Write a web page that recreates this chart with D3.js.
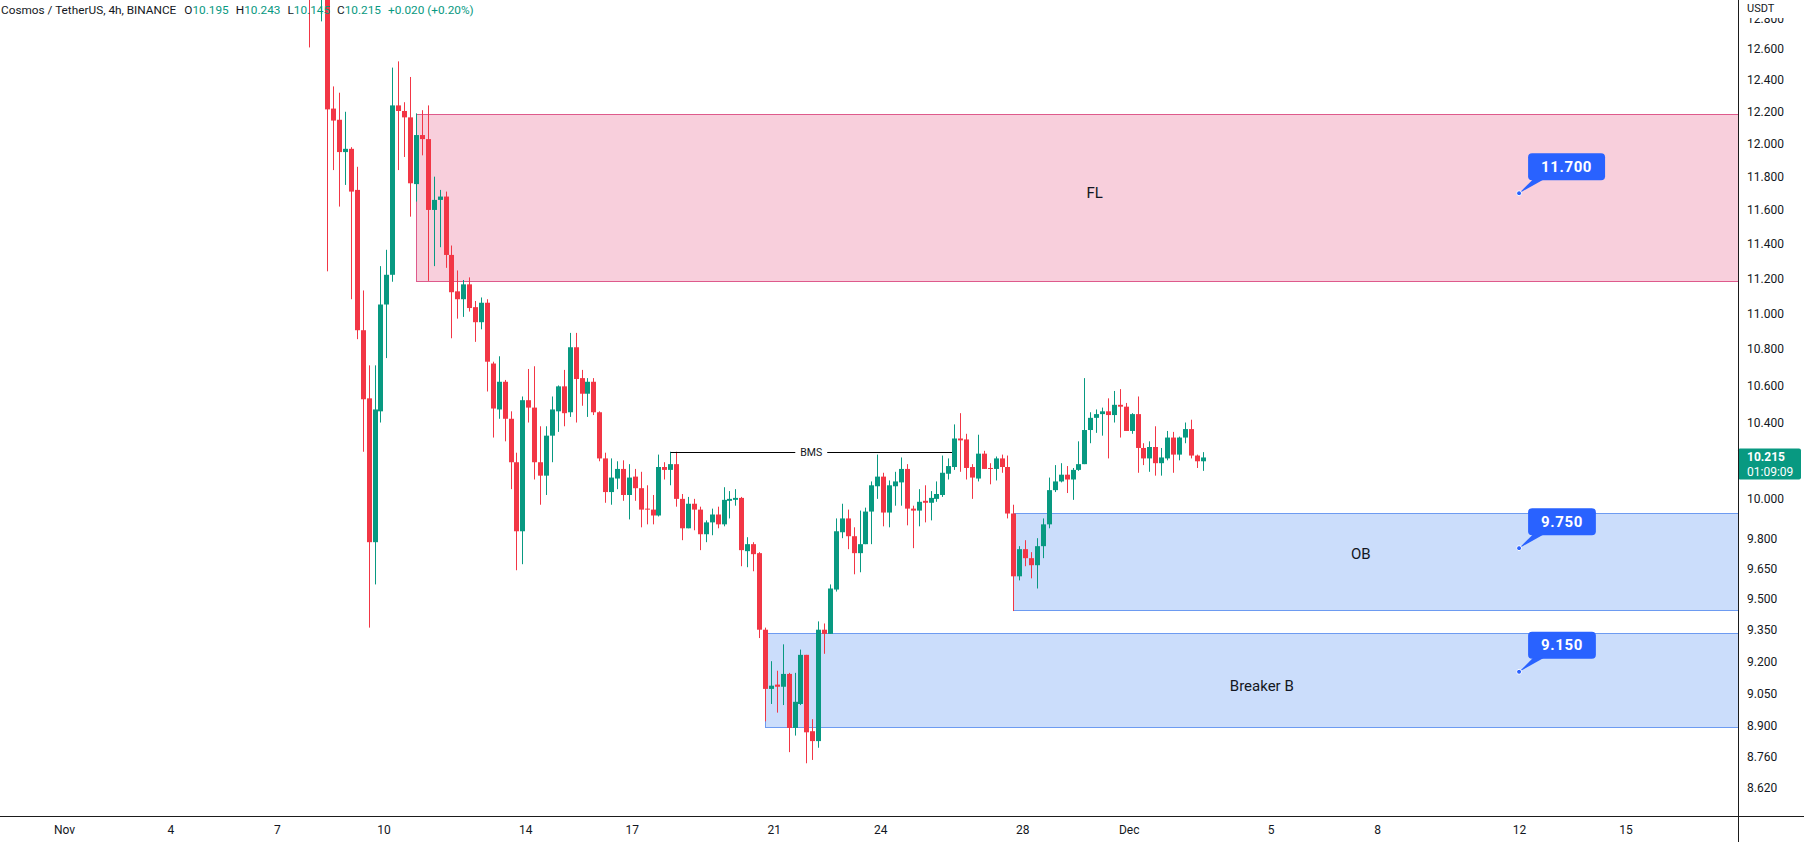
<!DOCTYPE html>
<html><head><meta charset="utf-8">
<script src="https://cdn.jsdelivr.net/npm/d3@7"></script>
<style>
html,body{margin:0;padding:0;background:#fff;overflow:hidden}
svg{display:block}
text{font-family:Roboto,"Noto Sans",sans-serif}
</style></head><body>
<svg id="chart" width="1804" height="842"></svg>
<script>
// ---------------- DATA ----------------
const SYMBOL = "Cosmos / TetherUS, 4h, BINANCE";
const FIRST_BAR = "2022-11-07T22:00:00Z";   // chart-local time of first bar
const BAR_HOURS = 4;
const COUNTDOWN = "01:09:09";
const PRICE_UNIT = "USDT";

const OPEN = [
  13.60, 13.20, 13.10,
  13.40, 12.22, 12.15, 11.95, 11.97, 11.72, 10.905, 10.53, 9.78, 10.46,
  11.05, 11.22, 12.24, 12.205, 12.165, 11.755, 12.055, 12.03, 11.60, 11.66,
  11.68, 11.335, 11.125, 11.08, 11.165, 11.035, 10.95, 11.06, 10.72, 10.47,
  10.62, 10.42, 10.19, 9.835, 10.52, 10.48, 10.19, 10.12, 10.33, 10.46,
  10.595, 10.455, 10.81, 10.64, 10.555, 10.62, 10.455, 10.21, 10.035, 10.105,
  10.155, 10.02, 10.115, 10.055, 9.95, 9.945, 9.915, 10.165, 10.15, 10.18,
  10.0, 9.85, 9.975, 9.945, 9.82, 9.88, 9.92, 9.87, 9.99, 9.995,
  10.005, 9.735, 9.77, 9.725, 9.35, 9.07, 9.09, 9.08, 9.14, 8.89,
  9.00, 9.23, 8.875, 8.83, 9.35, 9.33, 9.545, 9.83, 9.90, 9.81,
  9.725, 9.77, 9.935, 10.065, 10.115, 9.93, 10.065, 10.085, 10.155, 9.95,
  9.94, 9.99, 9.98, 10.0, 10.02, 10.13, 10.165, 10.315, 10.31, 10.165,
  10.105, 10.235, 10.16, 10.155, 10.21, 10.165, 9.925, 9.61, 9.745, 9.70,
  9.665, 9.76, 9.87, 10.045, 10.09, 10.125, 10.10, 10.15, 10.18, 10.36,
  10.425, 10.445, 10.46, 10.44, 10.495, 10.485, 10.355, 10.445, 10.265, 10.21,
  10.27, 10.185, 10.21, 10.32, 10.23, 10.32, 10.365, 10.225, 10.195
];
const HIGH = [
  13.70, 13.45, 13.55,
  13.48, 12.36, 12.32, 12.20, 11.98, 11.86, 11.13, 10.71, 10.71, 11.27,
  11.365, 12.48, 12.52, 12.26, 12.42, 12.19, 12.21, 12.24, 11.80, 11.72,
  11.71, 11.39, 11.245, 11.19, 11.205, 11.07, 11.09, 11.08, 10.73, 10.76,
  10.63, 10.46, 10.24, 10.54, 10.69, 10.705, 10.38, 10.38, 10.54, 10.60,
  10.685, 10.89, 10.89, 10.685, 10.64, 10.64, 10.46, 10.24, 10.21, 10.195,
  10.20, 10.18, 10.155, 10.14, 10.07, 10.02, 10.23, 10.19, 10.245, 10.245,
  10.025, 10.01, 10.0, 9.96, 9.89, 9.95, 9.96, 10.06, 10.04, 10.05,
  10.01, 9.805, 9.78, 9.73, 9.36, 9.20, 9.155, 9.28, 9.145, 9.145,
  9.255, 9.23, 8.93, 9.39, 9.38, 9.57, 9.90, 9.975, 9.945, 9.855,
  9.94, 9.955, 10.09, 10.23, 10.135, 10.095, 10.14, 10.215, 10.18, 9.965,
  10.05, 10.07, 10.04, 10.09, 10.225, 10.21, 10.39, 10.45, 10.34, 10.18,
  10.335, 10.25, 10.185, 10.22, 10.23, 10.225, 9.97, 9.76, 9.79, 9.73,
  9.80, 9.90, 10.11, 10.175, 10.185, 10.17, 10.16, 10.30, 10.64, 10.455,
  10.47, 10.48, 10.53, 10.57, 10.58, 10.505, 10.45, 10.54, 10.29, 10.30,
  10.38, 10.265, 10.355, 10.35, 10.325, 10.40, 10.415, 10.23, 10.243
];
const LOW = [
  12.61, 12.95, 12.78,
  11.24, 11.84, 11.62, 11.75, 11.08, 10.855, 10.245, 9.36, 9.57, 10.40,
  10.75, 11.18, 11.84, 11.92, 11.56, 11.65, 11.93, 11.185, 11.27, 11.38,
  11.26, 10.86, 10.97, 10.98, 11.01, 10.84, 10.91, 10.567, 10.32, 10.42,
  10.30, 10.05, 9.64, 9.67, 10.40, 10.10, 9.97, 10.02, 10.19, 10.35,
  10.38, 10.43, 10.40, 10.49, 10.43, 10.44, 10.195, 9.98, 9.97, 10.05,
  9.99, 9.895, 9.99, 9.855, 9.87, 9.87, 9.91, 10.10, 10.07, 9.96,
  9.79, 9.85, 9.84, 9.74, 9.78, 9.815, 9.85, 9.86, 9.90, 9.965,
  9.66, 9.655, 9.635, 9.31, 8.92, 9.00, 8.96, 8.995, 8.78, 8.855,
  8.995, 8.73, 8.745, 8.80, 9.235, 9.33, 9.535, 9.80, 9.745, 9.62,
  9.63, 9.77, 9.77, 10.0, 9.86, 9.855, 9.965, 9.965, 9.865, 9.75,
  9.86, 9.88, 9.89, 9.985, 10.01, 10.10, 10.15, 10.14, 10.10, 10.0,
  10.09, 10.155, 10.075, 10.095, 10.135, 9.90, 9.44, 9.59, 9.66, 9.60,
  9.55, 9.70, 9.85, 10.035, 10.085, 10.03, 9.995, 10.145, 10.18, 10.29,
  10.345, 10.33, 10.21, 10.40, 10.32, 10.355, 10.34, 10.135, 10.175, 10.14,
  10.12, 10.12, 10.20, 10.135, 10.20, 10.29, 10.21, 10.16, 10.145
];
const CLOSE = [
  13.20, 13.10, 13.40,
  12.215, 12.145, 11.95, 11.97, 11.71, 10.905, 10.525, 9.78, 10.47, 11.05,
  11.22, 12.24, 12.205, 12.165, 11.76, 12.055, 12.03, 11.60, 11.66, 11.68,
  11.335, 11.12, 11.08, 11.165, 11.03, 10.95, 11.06, 10.73, 10.475, 10.62,
  10.42, 10.19, 9.835, 10.52, 10.48, 10.19, 10.12, 10.33, 10.47, 10.595,
  10.45, 10.81, 10.635, 10.555, 10.62, 10.455, 10.21, 10.035, 10.11, 10.155,
  10.02, 10.11, 10.055, 9.945, 9.945, 9.915, 10.165, 10.15, 10.18, 10.0,
  9.85, 9.975, 9.945, 9.82, 9.88, 9.92, 9.87, 9.995, 10.0, 10.005,
  9.74, 9.77, 9.72, 9.35, 9.07, 9.085, 9.08, 9.14, 8.89, 9.01,
  9.23, 8.87, 8.83, 9.35, 9.33, 9.55, 9.835, 9.90, 9.81, 9.725,
  9.77, 9.935, 10.07, 10.115, 9.93, 10.07, 10.09, 10.155, 9.95, 9.94,
  9.985, 9.98, 10.005, 10.025, 10.135, 10.17, 10.315, 10.305, 10.16, 10.11,
  10.235, 10.155, 10.155, 10.21, 10.165, 9.925, 9.61, 9.745, 9.70, 9.665,
  9.76, 9.87, 10.045, 10.09, 10.125, 10.10, 10.15, 10.18, 10.36, 10.425,
  10.445, 10.46, 10.44, 10.495, 10.485, 10.355, 10.445, 10.265, 10.21, 10.27,
  10.185, 10.215, 10.32, 10.23, 10.32, 10.365, 10.225, 10.195, 10.215
];

const Y_TICKS = [12.8, 12.6, 12.4, 12.2, 12.0, 11.8, 11.6, 11.4, 11.2, 11.0, 10.8, 10.6, 10.4,
                 10.0, 9.8, 9.65, 9.5, 9.35, 9.2, 9.05, 8.9, 8.76, 8.62];
const X_TICK_DATES = ["2022-11-01", "2022-11-04", "2022-11-07", "2022-11-10", "2022-11-14", "2022-11-17",
                      "2022-11-21", "2022-11-24", "2022-11-28", "2022-12-01", "2022-12-05", "2022-12-08",
                      "2022-12-12", "2022-12-15"];
const X_TICK_LABELS = ["Nov", "4", "7", "10", "14", "17", "21", "24", "28", "Dec", "5", "8", "12", "15"];

// zones (rectangles drawn on the chart)
const ZONE_NAMES  = ["FL", "OB", "Breaker B"];
const ZONE_START  = ["2022-11-10T22:00:00Z", "2022-11-27T18:00:00Z", "2022-11-20T18:00:00Z"];
const ZONE_TOP    = [12.186, 9.928, 9.335];
const ZONE_BOTTOM = [11.185, 9.446, 8.894];
const ZONE_LABEL_TIME  = ["2022-11-30T01:00:00Z", "2022-12-07T13:00:00Z", "2022-12-04T18:00:00Z"];
const ZONE_LABEL_PRICE = [11.70, 9.72, 9.085];

// price callouts
const CALLOUT_VALUES = [11.7, 9.75, 9.15];
const CALLOUT_TIME = "2022-12-12T00:00:00Z";

// BMS line
const BMS_LABEL = "BMS";
const BMS_FROM_BAR = 61;   // index in arrays (bar k=58)
const BMS_TO_BAR = 109;    // index in arrays (bar k=106)
const BMS_PRICE = 10.245;

// ---------------- CHART ----------------
const W = 1804, H = 842, PLOT_R = 1738, PLOT_B = 816;
const UP = "#089981", DOWN = "#F23645", INK = "#131722";
const svg = d3.select("#chart");

const x = d3.scaleUtc()
  .domain([new Date("2022-11-01T00:00:00Z"), new Date("2022-12-15T00:00:00Z")])
  .range([64, 64 + 44 * 35.49]);
const y = d3.scaleLog().domain([8.4967, 12.921]).range([PLOT_B, 0]);

const t0 = new Date(FIRST_BAR);
const bars = OPEN.map((o, i) => ({
  t: d3.utcHour.offset(t0, i * BAR_HOURS), o, h: HIGH[i], l: LOW[i], c: CLOSE[i]
}));

svg.append("rect").attr("width", W).attr("height", H).attr("fill", "#fff");
svg.append("defs").append("clipPath").attr("id", "plot")
  .append("rect").attr("x", 0).attr("y", 0).attr("width", PLOT_R).attr("height", PLOT_B);

const plot = svg.append("g").attr("clip-path", "url(#plot)");

// zones
const zoneStyle = [
  {fill: "#F8CFDC", stroke: "#DE5A8C"},
  {fill: "#CBDDFB", stroke: "#6D9BF1"},
  {fill: "#CBDDFB", stroke: "#6D9BF1"}
];
ZONE_NAMES.forEach((n, i) => {
  const x0 = Math.round(x(new Date(ZONE_START[i]))) + 0.5;
  const yt = Math.round(y(ZONE_TOP[i])) + 0.5;
  const yb = Math.round(y(ZONE_BOTTOM[i])) + 0.5;
  plot.append("rect").attr("x", x0).attr("y", yt)
    .attr("width", PLOT_R + 10 - x0).attr("height", yb - yt)
    .attr("fill", zoneStyle[i].fill).attr("stroke", zoneStyle[i].stroke).attr("stroke-width", 1);
});

// header
const last = bars[bars.length - 1], prev = bars[bars.length - 2];
const f3 = d3.format(".3f");
const chg = last.c - prev.c;
const hdr = svg.append("text").attr("x", 1).attr("y", 13.5).attr("font-size", 11.8).attr("fill", INK);
hdr.append("tspan").text(SYMBOL);
[["O", last.o], ["H", last.h], ["L", last.l], ["C", last.c]].forEach((p, i) => {
  hdr.append("tspan").attr("dx", i === 0 ? 8 : 7).text(p[0]);
  hdr.append("tspan").attr("fill", UP).text(f3(p[1]));
});
hdr.append("tspan").attr("dx", 7).attr("fill", UP)
  .text((chg >= 0 ? "+" : "") + f3(chg) + " (" + (chg >= 0 ? "+" : "") + d3.format(".2f")(chg / prev.c * 100) + "%)");

// candles
const cg = plot.append("g");
bars.forEach(b => {
  const cx = Math.round(x(b.t));
  const col = b.c >= b.o ? UP : DOWN;
  cg.append("line").attr("x1", cx + 0.5).attr("x2", cx + 0.5)
    .attr("y1", y(b.h)).attr("y2", y(b.l)).attr("stroke", col).attr("stroke-width", 1);
  const top = y(Math.max(b.o, b.c)), bot = y(Math.min(b.o, b.c));
  cg.append("rect").attr("x", cx - 2).attr("width", 5)
    .attr("y", top).attr("height", Math.max(1, bot - top)).attr("fill", col);
});

// zone labels
ZONE_NAMES.forEach((n, i) => {
  plot.append("text").attr("x", x(new Date(ZONE_LABEL_TIME[i]))).attr("y", y(ZONE_LABEL_PRICE[i]))
    .attr("text-anchor", "middle").attr("dominant-baseline", "central")
    .attr("font-size", 15).attr("fill", INK).text(n);
});

// BMS line
{
  const xa = Math.round(x(bars[BMS_FROM_BAR].t)) + 0.5;
  const xb = Math.round(x(bars[BMS_TO_BAR].t)) - 2;
  const yy = Math.round(y(BMS_PRICE)) + 0.5;
  const xm = (xa + xb) / 2;
  const t = plot.append("text").attr("x", xm).attr("y", yy).attr("text-anchor", "middle")
    .attr("dominant-baseline", "central").attr("font-size", 10.5).attr("fill", INK).text(BMS_LABEL);
  const tw = t.node().getComputedTextLength();
  plot.append("line").attr("x1", xa).attr("x2", xm - tw / 2 - 5).attr("y1", yy).attr("y2", yy).attr("stroke", "#000");
  plot.append("line").attr("x1", xm + tw / 2 + 5).attr("x2", xb).attr("y1", yy).attr("y2", yy).attr("stroke", "#000");
}

// callouts
CALLOUT_VALUES.forEach(v => {
  const dx = x(new Date(CALLOUT_TIME)), dy = y(v);
  const g = plot.append("g");
  const txt = g.append("text").attr("font-size", 15).attr("font-weight", 700)
    .attr("letter-spacing", 0.6).attr("fill", "#fff").text(f3(v));
  const tw = txt.node().getComputedTextLength();
  const bx = dx + 9, bh = 27, bb = dy - 13, bw = tw + 26;
  g.insert("path", "text").attr("d",
      `M${dx},${dy} L${bx + 5},${bb - 1} L${bx + 16},${bb - 1} Z`).attr("fill", "#2962FF");
  g.insert("rect", "text").attr("x", bx).attr("y", bb - bh).attr("width", bw).attr("height", bh)
    .attr("rx", 4).attr("fill", "#2962FF");
  txt.attr("x", bx + bw / 2).attr("y", bb - bh / 2).attr("text-anchor", "middle").attr("dominant-baseline", "central");
  g.append("circle").attr("cx", dx).attr("cy", dy).attr("r", 2.5).attr("fill", "#2962FF")
    .attr("stroke", "#fff").attr("stroke-width", 1);
});

// price axis
svg.append("rect").attr("x", PLOT_R).attr("y", 0).attr("width", W - PLOT_R).attr("height", H).attr("fill", "#fff");
const ya = svg.append("g").attr("transform", `translate(${PLOT_R},0)`)
  .call(d3.axisRight(y).tickValues(Y_TICKS).tickSize(0).tickPadding(9).tickFormat(f3));
ya.select(".domain").remove();
ya.selectAll("text").attr("font-size", 12).attr("fill", INK).attr("font-family", "Roboto,sans-serif");

svg.append("rect").attr("x", PLOT_R + 1).attr("y", 0).attr("width", W - PLOT_R).attr("height", 18).attr("fill", "#fff");
svg.append("text").attr("x", PLOT_R + 9).attr("y", 8).attr("dominant-baseline", "central")
  .attr("font-size", 11).attr("fill", INK).text(PRICE_UNIT);

// current price label
{
  const py = y(last.c);
  svg.append("rect").attr("x", PLOT_R).attr("y", py - 9).attr("width", 63).attr("height", 31)
    .attr("rx", 2).attr("fill", UP);
  svg.append("text").attr("x", PLOT_R + 9).attr("y", py).attr("dominant-baseline", "central")
    .attr("font-size", 12).attr("font-weight", 700).attr("fill", "#fff").text(f3(last.c));
  svg.append("text").attr("x", PLOT_R + 9).attr("y", py + 15).attr("dominant-baseline", "central")
    .attr("font-size", 12).attr("fill", "#fff").text(COUNTDOWN);
}

// time axis
svg.append("rect").attr("x", 0).attr("y", PLOT_B).attr("width", PLOT_R).attr("height", H - PLOT_B).attr("fill", "#fff");
const xa = svg.append("g").attr("transform", `translate(0,${PLOT_B})`)
  .call(d3.axisBottom(x).tickValues(X_TICK_DATES.map(d => new Date(d + "T00:00:00Z")))
    .tickSize(0).tickPadding(9).tickFormat((d, i) => X_TICK_LABELS[i]));
xa.select(".domain").remove();
xa.selectAll("text").attr("font-size", 12).attr("fill", INK).attr("font-family", "Roboto,sans-serif");

// axis lines
svg.append("line").attr("x1", 0).attr("x2", W).attr("y1", PLOT_B + 0.5).attr("y2", PLOT_B + 0.5).attr("stroke", "#1b1b1b");
svg.append("line").attr("x1", PLOT_R + 0.5).attr("x2", PLOT_R + 0.5).attr("y1", 0).attr("y2", H).attr("stroke", "#1b1b1b");
</script>
</body></html>
